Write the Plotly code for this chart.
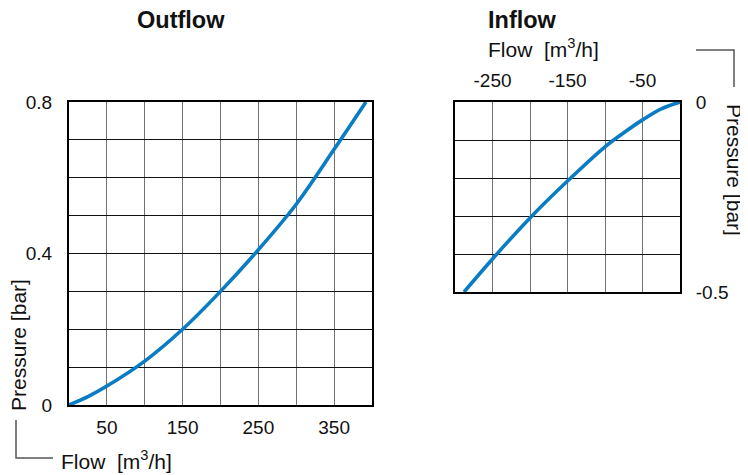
import plotly.graph_objects as go

# ---- data ----
out_flow = [0, 25, 50, 100, 150, 200, 250, 300, 350, 392]
out_pressure = [0, 0.022, 0.05, 0.116, 0.2, 0.3, 0.41, 0.53, 0.675, 0.8]

in_flow = [0, -25, -50, -75, -100, -150, -200, -250, -288]
in_pressure = [0, -0.018, -0.047, -0.081, -0.118, -0.208, -0.305, -0.413, -0.5]

out_xticks = [0, 50, 100, 150, 200, 250, 300, 350, 400]
out_xlabels = ["", "50", "", "150", "", "250", "", "350", ""]
out_yticks = [0, 0.1, 0.2, 0.3, 0.4, 0.5, 0.6, 0.7, 0.8]
out_ylabels = ["0", "", "", "", "0.4", "", "", "", "0.8"]

in_xticks = [-300, -250, -200, -150, -100, -50, 0]
in_xlabels = ["", "-250", "", "-150", "", "-50", ""]
in_yticks = [-0.5, -0.4, -0.3, -0.2, -0.1, 0]
in_ylabels = ["-0.5", "", "", "", "", "0"]

# page body has an 8px margin: figure is drawn starting at (8, 8)
OFF = 8
W, H = 748 - OFF, 475 - OFF
FONT = "Liberation Sans, Arial, sans-serif"
BLUE = "#0a7cc4"


def px(x):
    return (x - OFF) / W


def py(y):
    return 1 - (y - OFF) / H


fig = go.Figure()
fig.add_trace(go.Scatter(x=out_flow, y=out_pressure, mode="lines",
                         line=dict(color=BLUE, width=3.6, shape="spline"),
                         xaxis="x", yaxis="y", showlegend=False, hoverinfo="skip"))
fig.add_trace(go.Scatter(x=in_flow, y=in_pressure, mode="lines",
                         line=dict(color=BLUE, width=3.6, shape="spline"),
                         xaxis="x2", yaxis="y2", showlegend=False, hoverinfo="skip"))

common_x = dict(showline=True, mirror=True, linecolor="#000", linewidth=2,
                showgrid=True, gridcolor="#707070", gridwidth=1.3, automargin=False,
                zeroline=False, ticks="", tickfont=dict(size=19, color="#111", family=FONT),
                fixedrange=True)
common_y = dict(showline=True, mirror=True, linecolor="#000", linewidth=2,
                showgrid=True, gridcolor="#111", gridwidth=1.1, automargin=False,
                zeroline=False, ticks="", tickfont=dict(size=19, color="#111", family=FONT),
                fixedrange=True)

fig.update_layout(
    width=W, height=H, autosize=False,
    margin=dict(l=0, r=0, t=0, b=0),
    paper_bgcolor="white", plot_bgcolor="white",
    font=dict(family=FONT, color="#111"),
    xaxis=dict(domain=[px(69), px(372)], range=[0, 400], anchor="y",
               tickvals=out_xticks, ticktext=out_xlabels, ticklabelstandoff=4, **common_x),
    yaxis=dict(domain=[py(405), py(102)], range=[0, 0.8], anchor="x",
               tickvals=out_yticks, ticktext=out_ylabels, ticklabelstandoff=11, **common_y),
    xaxis2=dict(domain=[px(455), px(680)], range=[-300, 0], anchor="y2", side="top",
                tickvals=in_xticks, ticktext=in_xlabels, ticklabelstandoff=5, **common_x),
    yaxis2=dict(domain=[py(292), py(102)], range=[-0.5, 0], anchor="x2", side="right",
                tickvals=in_yticks, ticktext=in_ylabels, ticklabelstandoff=10, **common_y),
)

flow_label = "Flow\u00a0\u00a0[m<sup>3</sup>/h]"
ann = [
    dict(text="<b>Outflow</b>", x=px(181), y=py(20), xanchor="center", yanchor="middle",
         font=dict(size=23.5)),
    dict(text="<b>Inflow</b>", x=px(486), y=py(20), xanchor="left", yanchor="middle",
         font=dict(size=23.5)),
    dict(text=flow_label, x=px(59), y=py(460), xanchor="left", yanchor="middle",
         font=dict(size=21)),
    dict(text=flow_label, x=px(486), y=py(48), xanchor="left", yanchor="middle",
         font=dict(size=21)),
    dict(text="Pressure [bar]", x=px(18), y=py(413), xanchor="center", yanchor="bottom",
         textangle=-90, font=dict(size=21)),
    dict(text="Pressure [bar]", x=px(735), y=py(102), xanchor="center", yanchor="top",
         textangle=90, font=dict(size=21)),
]
for a in ann:
    a.update(xref="paper", yref="paper", showarrow=False)
    a["font"].update(family=FONT, color="#111")
fig.update_layout(annotations=ann)

fig.update_layout(shapes=[
    dict(type="path", xref="paper", yref="paper",
         path=f"M {px(16)} {py(420)} L {px(16)} {py(458)} L {px(53)} {py(458)}",
         line=dict(color="#555", width=1.5)),
    dict(type="path", xref="paper", yref="paper",
         path=f"M {px(696)} {py(50)} L {px(734)} {py(50)} L {px(734)} {py(87)}",
         line=dict(color="#555", width=1.5)),
])

fig.write_html("out.html")
